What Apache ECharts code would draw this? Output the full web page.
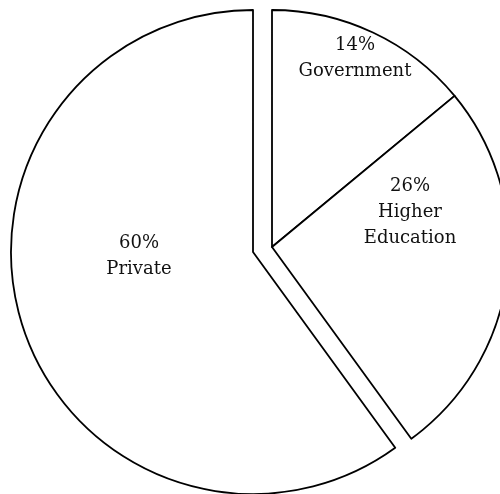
<!DOCTYPE html>
<html>
<head>
<meta charset="utf-8">
<script src="https://cdn.jsdelivr.net/npm/echarts@6/dist/echarts.min.js"></script>
<style>
html,body{margin:0;padding:0;background:#fff;}
#c{width:500px;height:494px;}
</style>
</head>
<body>
<div id="c"></div>
<script>
var categories = ['Government', 'Higher Education', 'Private'];
var values = [14, 26, 60];
var labelNames = ['Government', 'Higher\nEducation', 'Private'];

var chart = echarts.init(document.getElementById('c'), null, {renderer: 'canvas'});

var FONT = '"DejaVu Serif", serif';
var labelPos = {0: [355, 58], 1: [410, 212], 2: [139, 256]};

function buildData(visibleSet) {
  return categories.map(function (c, i) {
    var vis = visibleSet.indexOf(i) >= 0;
    return {
      name: c,
      value: values[i],
      itemStyle: vis ? {color: '#fff', borderColor: '#000', borderWidth: 1.8} :
                       {color: 'rgba(0,0,0,0)', borderWidth: 0},
      label: {show: vis}
    };
  });
}

var labelCommon = {
  position: 'inside',
  color: '#111',
  fontFamily: FONT,
  fontSize: 18,
  lineHeight: 26,
  align: 'center',
  verticalAlign: 'middle',
  formatter: function (p) { return p.value + '%\n' + labelNames[p.dataIndex]; }
};

function layout(p) {
  var pos = labelPos[p.dataIndex];
  return {x: pos[0], y: pos[1], align: 'center', verticalAlign: 'middle'};
}

chart.setOption({
  animation: false,
  backgroundColor: '#fff',
  series: [
    {
      type: 'pie',
      center: [272, 247],
      radius: [0, 237],
      startAngle: 90,
      clockwise: true,
      avoidLabelOverlap: false,
      silent: true,
      emphasis: {disabled: true},
      labelLine: {show: false},
      label: labelCommon,
      labelLayout: layout,
      data: buildData([0, 1])
    },
    {
      type: 'pie',
      center: [253, 252],
      radius: [0, 242],
      startAngle: 90,
      clockwise: true,
      avoidLabelOverlap: false,
      silent: true,
      emphasis: {disabled: true},
      labelLine: {show: false},
      label: labelCommon,
      labelLayout: layout,
      data: buildData([2])
    }
  ]
});
</script>
</body>
</html>
